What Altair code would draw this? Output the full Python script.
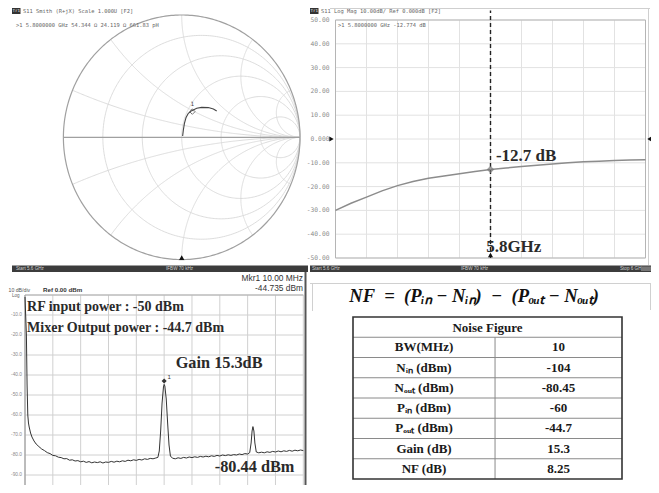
import altair as alt
import numpy as np
import pandas as pd

# ---------------- data ----------------
# Smith chart trace (reflection coefficient, real / imaginary)
SMITH_U = [0.008, 0.014, 0.023, 0.037, 0.056, 0.085, 0.127, 0.169, 0.225, 0.268, 0.296]
SMITH_V = [0.011, 0.060, 0.114, 0.163, 0.196, 0.218, 0.237, 0.245, 0.243, 0.232, 0.215]
SMITH_MKR = (0.090, 0.210)
R_CIRCLES = [0.2, 0.5, 1, 2, 5]
X_ARCS = [0.2, 0.5, 1, 2, 5, -0.2, -0.5, -1, -2, -5]

# S11 log magnitude
LM_FREQ = [5.60, 5.62, 5.64, 5.66, 5.68, 5.70, 5.72, 5.74, 5.76, 5.78, 5.80,
           5.82, 5.84, 5.86, 5.88, 5.90, 5.92, 5.94, 5.96, 5.98, 6.00]
LM_S11 = [-30.0, -27.0, -24.4, -21.8, -19.6, -17.9, -16.5, -15.5, -14.6, -13.7, -12.77,
          -12.2, -11.6, -11.0, -10.5, -10.0, -9.6, -9.3, -9.0, -8.85, -8.7]
LM_XTICKS = [5.60, 5.64, 5.68, 5.72, 5.76, 5.80, 5.84, 5.88, 5.92, 5.96, 6.00]
LM_YTICKS = [50, 40, 30, 20, 10, 0, -10, -20, -30, -40, -50]
LM_YLABELS = ["50.00", "40.00", "30.00", "20.00", "10.00", "0.000",
              "-10.00", "-20.00", "-30.00", "-40.00", "-50.00"]

# Spectrum analyser trace (MHz, dBm)
SA_FREQ = [0.0, 0.1, 0.15, 0.2, 0.25, 0.3, 0.4, 0.5, 0.65, 0.8, 1.0, 1.2, 1.4, 1.6, 1.8,
           2.0, 2.2, 2.4, 2.6, 2.8, 3.0, 3.2, 3.4, 3.6, 3.8, 4.0, 4.2, 4.4, 4.6, 4.8,
           5.0, 5.2, 5.4, 5.6, 5.8, 6.0, 6.2, 6.4, 6.6, 6.8, 7.0, 7.2, 7.4, 7.6, 7.8,
           8.0, 8.2, 8.4, 8.6, 8.8, 9.0, 9.2, 9.4, 9.55, 9.65, 9.75, 9.85, 9.95, 10.0,
           10.05, 10.15, 10.25, 10.35, 10.45, 10.6, 10.8, 11.0, 11.2, 11.4, 11.6, 11.8,
           12.0, 12.2, 12.4, 12.6, 12.8, 13.0, 13.2, 13.4, 13.6, 13.8, 14.0, 14.2, 14.4,
           14.6, 14.8, 15.0, 15.2, 15.4, 15.6, 15.8, 16.0, 16.15, 16.25, 16.32, 16.38,
           16.45, 16.52, 16.62, 16.8, 17.0, 17.2, 17.4, 17.6, 17.8, 18.0, 18.2, 18.4,
           18.6, 18.8, 19.0, 19.2, 19.4, 19.6, 19.8, 20.0]
SA_DBM = [-1.0, -20.0, -45.0, -60.0, -64.0, -66.0, -69.0, -71.0, -73.0, -74.5, -75.8, -77.0, -77.8, -78.8, -79.3,
          -80.2, -80.4, -81.1, -81.3, -81.9, -81.8, -82.6, -82.4, -83.0, -82.8, -83.4, -83.1, -83.7, -83.3, -83.9,
          -83.5, -83.8, -83.4, -84.0, -83.5, -83.7, -83.2, -83.6, -83.1, -83.4, -82.9, -83.2, -82.6, -82.9, -82.4,
          -82.7, -82.2, -82.5, -81.9, -82.2, -81.7, -81.9, -81.5, -81.2, -78.0, -68.0, -54.0, -46.0, -44.7,
          -45.5, -52.0, -64.0, -75.0, -80.5, -81.6, -81.9, -81.4, -81.7, -81.2, -81.5, -81.0,
          -81.3, -80.9, -81.2, -80.7, -81.0, -80.6, -80.9, -80.4, -80.7, -80.2, -80.5, -80.0, -80.3,
          -79.9, -80.2, -79.8, -80.0, -79.5, -79.8, -79.3, -79.5, -78.8, -74.0, -68.0, -65.8,
          -68.0, -74.0, -78.5, -78.9, -78.6, -78.9, -78.4, -78.7, -78.2, -78.5, -78.0, -78.4,
          -77.9, -78.2, -77.7, -78.1, -77.6, -77.9, -77.5, -77.8]
SA_XTICKS = [0, 2, 4, 6, 8, 10, 12, 14, 16, 18, 20]
SA_YTICKS = [0, -10, -20, -30, -40, -50, -60, -70, -80, -90]
SA_YLABELS = ["-10.0", "-20.0", "-30.0", "-40.0", "-50.0", "-60.0", "-70.0", "-80.0", "-90.0"]

# Noise figure table
TABLE_PARAMS = ["BW(MHz)", "Nᵢₙ (dBm)", "Nₒᵤₜ (dBm)", "Pᵢₙ (dBm)", "Pₒᵤₜ (dBm)", "Gain (dB)", "NF (dB)"]
TABLE_VALUES = ["10", "-104", "-80.45", "-60", "-44.7", "15.3", "8.25"]
NBSP = "\u00a0"
EQUATION = ("NF" + NBSP * 2 + "=" + NBSP * 2 + "(Pᵢₙ" + NBSP + "−" + NBSP + "Nᵢₙ)" + NBSP * 2 + "−"
            + NBSP * 2 + "(Pₒᵤₜ" + NBSP + "−" + NBSP + "Nₒᵤₜ)")

# ---------------- helpers ----------------
OFF = 8


def px(v):
    return v - OFF


def scl(domain, r0, r1):
    return alt.Scale(domain=domain, range=[px(r0), px(r1)], nice=False, zero=False)


dummy = pd.DataFrame({"k": [0]})
MONO = "DejaVu Sans Mono"
SANS = "Liberation Sans"
SERIF = "Liberation Serif"

layers = []


def ptext(txt, x, y, size, font=MONO, color="#666", weight="normal", align="left",
          baseline="middle", style="normal"):
    layers.append(alt.Chart(dummy).mark_text(
        text=txt, font=font, fontSize=size, color=color, fontWeight=weight,
        align=align, baseline=baseline, fontStyle=style
    ).encode(x=alt.value(px(x)), y=alt.value(px(y))))


def prect(x0, y0, x1, y1, fill=None, stroke=None, sw=1.0):
    kw = {}
    if fill is not None:
        kw["fill"] = fill
    else:
        kw["fill"] = "transparent"
    if stroke is not None:
        kw["stroke"] = stroke
        kw["strokeWidth"] = sw
    layers.append(alt.Chart(dummy).mark_rect(**kw).encode(
        x=alt.value(px(x0)), x2=alt.value(px(x1)),
        y=alt.value(px(y0)), y2=alt.value(px(y1))))


def prule(x0, y0, x1, y1, color="#ccc", sw=1.0):
    layers.append(alt.Chart(dummy).mark_rule(color=color, strokeWidth=sw).encode(
        x=alt.value(px(x0)), x2=alt.value(px(x1)),
        y=alt.value(px(y0)), y2=alt.value(px(y1))))


# ---------------- Smith chart ----------------
SM_X = scl([-1, 1], 63.4, 300.0)
SM_Y = scl([-1, 1], 259.6, 15.0)

rows = []
t = np.linspace(-np.pi / 2 + 1e-3, np.pi / 2 - 1e-3, 361)
for r in R_CIRCLES:
    z = r + 1j * np.tan(t)
    g = (z - 1) / (z + 1)
    for i, gg in enumerate(g):
        rows.append({"u": gg.real, "v": gg.imag, "c": f"r{r}", "i": i})
t2 = np.linspace(0, np.pi / 2 - 1e-3, 241)
for xx in X_ARCS:
    z = np.tan(t2) + 1j * xx
    g = (z - 1) / (z + 1)
    for i, gg in enumerate(g):
        rows.append({"u": gg.real, "v": gg.imag, "c": f"x{xx}", "i": i})
grid_df = pd.DataFrame(rows)
layers.append(alt.Chart(grid_df).mark_line(color="#d8d8d8", strokeWidth=0.9).encode(
    x=alt.X("u:Q", scale=SM_X, axis=None), y=alt.Y("v:Q", scale=SM_Y, axis=None),
    detail="c:N", order="i:Q"))

th = np.linspace(0, 2 * np.pi, 361)
outer = pd.DataFrame({"u": np.cos(th), "v": np.sin(th), "i": np.arange(361)})
layers.append(alt.Chart(outer).mark_line(color="#a0a0a0", strokeWidth=1.2).encode(
    x=alt.X("u:Q", scale=SM_X, axis=None), y=alt.Y("v:Q", scale=SM_Y, axis=None), order="i:Q"))
hline = pd.DataFrame({"u": [-1.0], "u2": [1.0], "v": [0.0]})
layers.append(alt.Chart(hline).mark_rule(color="#a0a0a0", strokeWidth=1.2).encode(
    x=alt.X("u:Q", scale=SM_X, axis=None), x2="u2:Q", y=alt.Y("v:Q", scale=SM_Y, axis=None)))

sm_tr = pd.DataFrame({"u": SMITH_U, "v": SMITH_V, "i": range(len(SMITH_U))})
layers.append(alt.Chart(sm_tr).mark_line(color="#444", strokeWidth=1.1).encode(
    x=alt.X("u:Q", scale=SM_X, axis=None), y=alt.Y("v:Q", scale=SM_Y, axis=None), order="i:Q"))
mk = pd.DataFrame({"u": [SMITH_MKR[0]], "v": [SMITH_MKR[1]]})
layers.append(alt.Chart(mk).mark_point(shape="diamond", size=30, color="#444", strokeWidth=1, filled=False).encode(
    x=alt.X("u:Q", scale=SM_X, axis=None), y=alt.Y("v:Q", scale=SM_Y, axis=None)))
layers.append(alt.Chart(mk).mark_text(text="1", font=MONO, fontSize=6, color="#444", dy=-8).encode(
    x=alt.X("u:Q", scale=SM_X, axis=None), y=alt.Y("v:Q", scale=SM_Y, axis=None)))
tri = pd.DataFrame({"u": [0.0], "v": [-1.0]})
layers.append(alt.Chart(tri).mark_point(shape="triangle-up", size=28, color="#111", filled=True, opacity=1, yOffset=-2).encode(
    x=alt.X("u:Q", scale=SM_X, axis=None), y=alt.Y("v:Q", scale=SM_Y, axis=None)))

prect(12, 8, 20.5, 14, fill="#333")
ptext("Tr1", 16.2, 11.2, 4.2, color="#eee", align="center")
ptext("S11 Smith (R+jX) Scale 1.000U [F2]", 23, 11.2, 5.4)
ptext(">1  5.8000000 GHz  54.344 Ω  24.119 Ω  661.83 pH", 16, 25, 5.4)

# ---------------- S11 log mag ----------------
LM_X = scl([5.6, 6.0], 335.5, 645.5)
LM_Y = scl([-50, 50], 258.0, 20.0)

prule(330, 8.5, 650, 8.5, color="#cfcfcf")
prule(648.5, 8.5, 648.5, 265, color="#cfcfcf")

gx = pd.DataFrame({"f": LM_XTICKS, "lo": [-50] * len(LM_XTICKS), "hi": [50] * len(LM_XTICKS)})
layers.append(alt.Chart(gx).mark_rule(color="#e2e2e2", strokeWidth=1).encode(
    x=alt.X("f:Q", scale=LM_X, axis=None), y=alt.Y("lo:Q", scale=LM_Y, axis=None), y2="hi:Q"))
gy = pd.DataFrame({"d": LM_YTICKS, "lab": LM_YLABELS, "a": [5.6] * 11, "b": [6.0] * 11})
layers.append(alt.Chart(gy).mark_rule(color="#e2e2e2", strokeWidth=1).encode(
    y=alt.Y("d:Q", scale=LM_Y, axis=None), x=alt.X("a:Q", scale=LM_X, axis=None), x2="b:Q"))
layers.append(alt.Chart(gy).mark_text(font=MONO, fontSize=6.3, color="#8a8a8a", align="right", dx=-6).encode(
    y=alt.Y("d:Q", scale=LM_Y, axis=None), x=alt.X("a:Q", scale=LM_X, axis=None), text="lab:N"))
frame = pd.DataFrame({"a": [5.6], "b": [6.0], "lo": [-50], "hi": [50]})
layers.append(alt.Chart(frame).mark_rect(fill="transparent", stroke="#b5b5b5", strokeWidth=1).encode(
    x=alt.X("a:Q", scale=LM_X, axis=None), x2="b:Q", y=alt.Y("lo:Q", scale=LM_Y, axis=None), y2="hi:Q"))

lm = pd.DataFrame({"f": LM_FREQ, "s": LM_S11})
layers.append(alt.Chart(lm).mark_line(color="#8c8c8c", strokeWidth=1.5).encode(
    x=alt.X("f:Q", scale=LM_X, axis=None), y=alt.Y("s:Q", scale=LM_Y, axis=None)))
dash = pd.DataFrame({"f": [5.8], "lo": [-50], "hi": [54]})
layers.append(alt.Chart(dash).mark_rule(color="#222", strokeWidth=1.4, strokeDash=[4, 3]).encode(
    x=alt.X("f:Q", scale=LM_X, axis=None), y=alt.Y("lo:Q", scale=LM_Y, axis=None), y2="hi:Q"))
m58 = pd.DataFrame({"f": [5.8], "s": [-12.77]})
layers.append(alt.Chart(m58).mark_point(shape="diamond", size=22, color="#777", filled=False).encode(
    x=alt.X("f:Q", scale=LM_X, axis=None), y=alt.Y("s:Q", scale=LM_Y, axis=None)))

tris = pd.DataFrame({"f": [5.6, 6.0, 5.8], "s": [0, 0, -50],
                     "sh": ["triangle-right", "triangle-left", "triangle-up"]})
for _, rw in tris.iterrows():
    off = {"triangle-right": dict(xOffset=-4), "triangle-left": dict(xOffset=4),
           "triangle-up": dict(yOffset=-3)}[rw.sh]
    layers.append(alt.Chart(pd.DataFrame([rw])).mark_point(shape=rw.sh, size=26, color="#111", filled=True,
                                                            opacity=1, **off).encode(
        x=alt.X("f:Q", scale=LM_X, axis=None), y=alt.Y("s:Q", scale=LM_Y, axis=None)))

ann_lm = pd.DataFrame({"f": [5.807], "s": [-7.0], "t": ["-12.7 dB"]})
layers.append(alt.Chart(ann_lm).mark_text(font=SERIF, fontSize=17, fontWeight="bold", color="#2a2a2a",
                                          align="left", baseline="middle").encode(
    x=alt.X("f:Q", scale=LM_X, axis=None), y=alt.Y("s:Q", scale=LM_Y, axis=None), text="t:N"))
ann_lm2 = pd.DataFrame({"f": [5.83], "s": [-45.3], "t": ["5.8GHz"]})
layers.append(alt.Chart(ann_lm2).mark_text(font=SERIF, fontSize=17, fontWeight="bold", color="#2a2a2a",
                                           align="center", baseline="middle").encode(
    x=alt.X("f:Q", scale=LM_X, axis=None), y=alt.Y("s:Q", scale=LM_Y, axis=None), text="t:N"))

prect(310, 8, 318.5, 14, fill="#333")
ptext("Tr1", 314.2, 11.2, 4.2, color="#eee", align="center")
ptext("S11 Log Mag 10.00dB/ Ref 0.000dB [F2]", 321, 11.2, 5.4)
ptext(">1  5.8000000 GHz -12.774 dB", 338, 25, 5.4)

# ---------------- status bars ----------------
prect(12, 265.5, 308, 272, fill="#3c3c3c")
prect(310, 265.5, 656, 272, fill="#3c3c3c")
ptext("Start 5.6 GHz", 16, 268.8, 4.6, font=SANS, color="#cfcfcf")
ptext("IFBW 70 kHz", 166, 268.8, 4.6, font=SANS, color="#cfcfcf")
ptext("Start 5.6 GHz", 312, 268.8, 4.6, font=SANS, color="#cfcfcf")
ptext("IFBW 70 kHz", 461, 268.8, 4.6, font=SANS, color="#cfcfcf")
ptext("Stop 6 GHz", 620, 268.8, 4.6, font=SANS, color="#cfcfcf")
prect(641, 266.5, 652, 271, fill="#777")

# ---------------- spectrum ----------------
SA_X = scl([0, 20], 25.0, 303.3)
SA_Y = scl([-100, 0], 495.0, 295.0)

sgx = pd.DataFrame({"f": SA_XTICKS, "lo": [-100] * 11, "hi": [0] * 11})
layers.append(alt.Chart(sgx).mark_rule(color="#d0d0d0", strokeWidth=1).encode(
    x=alt.X("f:Q", scale=SA_X, axis=None), y=alt.Y("lo:Q", scale=SA_Y, axis=None), y2="hi:Q"))
sgy = pd.DataFrame({"d": SA_YTICKS, "a": [0] * 10, "b": [20] * 10})
layers.append(alt.Chart(sgy).mark_rule(color="#d0d0d0", strokeWidth=1).encode(
    y=alt.Y("d:Q", scale=SA_Y, axis=None), x=alt.X("a:Q", scale=SA_X, axis=None), x2="b:Q"))
sgl = pd.DataFrame({"d": SA_YTICKS[1:], "lab": SA_YLABELS, "a": [0] * 9})
layers.append(alt.Chart(sgl).mark_text(font=SANS, fontSize=4.8, color="#8a8a8a", align="right", dx=-3).encode(
    y=alt.Y("d:Q", scale=SA_Y, axis=None), x=alt.X("a:Q", scale=SA_X, axis=None), text="lab:N"))
prule(25, 295, 25, 495, color="#909090")
prule(25, 295, 303.3, 295, color="#b0b0b0")
prule(305.5, 272, 305.5, 495, color="#555", sw=2)

sa = pd.DataFrame({"f": SA_FREQ, "d": SA_DBM})
layers.append(alt.Chart(sa).mark_line(color="#333", strokeWidth=1).encode(
    x=alt.X("f:Q", scale=SA_X, axis=None), y=alt.Y("d:Q", scale=SA_Y, axis=None)))
sam = pd.DataFrame({"f": [10.0], "d": [-43.0]})
layers.append(alt.Chart(sam).mark_point(shape="diamond", size=26, color="#333", filled=True, opacity=1).encode(
    x=alt.X("f:Q", scale=SA_X, axis=None), y=alt.Y("d:Q", scale=SA_Y, axis=None)))
layers.append(alt.Chart(sam).mark_text(text="1", font=SANS, fontSize=6, color="#333", dx=5, dy=-4).encode(
    x=alt.X("f:Q", scale=SA_X, axis=None), y=alt.Y("d:Q", scale=SA_Y, axis=None)))

sa_ann = pd.DataFrame({
    "f": [0.15, 0.15, 13.95, 16.5],
    "d": [-5.8, -16.7, -34.2, -85.8],
    "t": ["RF input power :  -50 dBm", "Mixer Output power : -44.7 dBm", "Gain 15.3dB", "-80.44 dBm"],
    "al": ["left", "left", "center", "center"],
})
for al, sz in [("left", 14), ("center", 16.3)]:
    sub = sa_ann[sa_ann.al == al]
    layers.append(alt.Chart(sub).mark_text(font=SERIF, fontSize=sz, fontWeight="bold", color="#2a2a2a",
                                           align=al, baseline="middle").encode(
        x=alt.X("f:Q", scale=SA_X, axis=None), y=alt.Y("d:Q", scale=SA_Y, axis=None), text="t:N"))

ptext("10 dB/div", 8.5, 289.5, 5.2, font=SANS, color="#555")
ptext("Ref 0.00 dBm", 43, 289.5, 6.2, font=SANS, color="#333", weight="bold")
ptext("Log", 12, 295.5, 4.6, font=SANS, color="#666")
ptext("Mkr1 10.00 MHz", 303, 277.5, 8.4, font=SANS, color="#333", align="right")
ptext("-44.735 dBm", 303, 287.5, 8.4, font=SANS, color="#333", align="right")

# ---------------- NF equation + table ----------------
prule(310, 283.5, 657, 283.5, color="#d0d0d0")
prule(312.5, 283.5, 312.5, 311, color="#d0d0d0")
prule(650.5, 283.5, 650.5, 310, color="#d0d0d0")

TB_X = scl([0, 1], 353.0, 622.0)
TB_Y = scl([0, 8], 317.0, 479.0)

eq = pd.DataFrame({"x": [0.45], "y": [-1.05], "t": [EQUATION]})
layers.append(alt.Chart(eq).mark_text(font=SERIF, fontSize=18.5, fontWeight="bold", fontStyle="italic",
                                      color="#111", align="center", baseline="middle").encode(
    x=alt.X("x:Q", scale=TB_X, axis=None), y=alt.Y("y:Q", scale=TB_Y, axis=None), text="t:N"))

hl = pd.DataFrame({"y": [1, 2, 3, 4, 5, 6, 7], "a": [0] * 7, "b": [1] * 7})
layers.append(alt.Chart(hl).mark_rule(color="#8a8a8a", strokeWidth=1).encode(
    y=alt.Y("y:Q", scale=TB_Y, axis=None), x=alt.X("a:Q", scale=TB_X, axis=None), x2="b:Q"))
vl = pd.DataFrame({"x": [0.528], "lo": [1], "hi": [8]})
layers.append(alt.Chart(vl).mark_rule(color="#8a8a8a", strokeWidth=1).encode(
    x=alt.X("x:Q", scale=TB_X, axis=None), y=alt.Y("lo:Q", scale=TB_Y, axis=None), y2="hi:Q"))
box = pd.DataFrame({"a": [0], "b": [1], "lo": [0], "hi": [8]})
layers.append(alt.Chart(box).mark_rect(fill="transparent", stroke="#333", strokeWidth=1.6).encode(
    x=alt.X("a:Q", scale=TB_X, axis=None), x2="b:Q", y=alt.Y("lo:Q", scale=TB_Y, axis=None), y2="hi:Q"))

cells = [{"x": 0.5, "y": 0.55, "t": "Noise Figure"}]
for i, (p, v) in enumerate(zip(TABLE_PARAMS, TABLE_VALUES)):
    cells.append({"x": 0.264, "y": i + 1.5, "t": p})
    cells.append({"x": 0.764, "y": i + 1.5, "t": v})
cells = pd.DataFrame(cells)
layers.append(alt.Chart(cells).mark_text(font=SERIF, fontSize=13, fontWeight="bold", color="#1a1a1a",
                                         align="center", baseline="middle").encode(
    x=alt.X("x:Q", scale=TB_X, axis=None), y=alt.Y("y:Q", scale=TB_Y, axis=None), text="t:N"))

chart = alt.layer(*layers).resolve_scale(x="independent", y="independent").properties(
    width=643, height=477, padding=0, autosize=alt.AutoSizeParams(type="none"),
    background="white"
).configure_view(stroke=None)

chart.save("out.html", embed_options={"renderer": "svg", "actions": False})
